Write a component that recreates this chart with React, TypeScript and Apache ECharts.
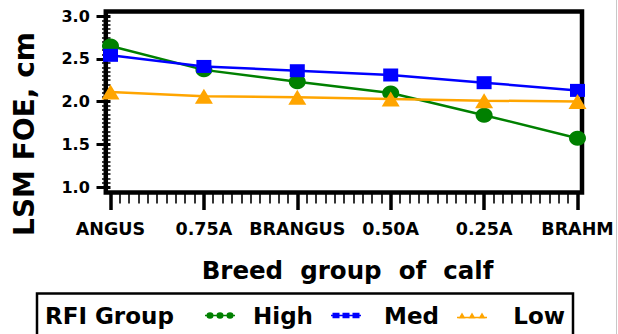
import React, { useEffect, useRef } from 'react';
import * as echarts from 'echarts';

const categories = ['ANGUS', '0.75A', 'BRANGUS', '0.50A', '0.25A', 'BRAHM'];
const seriesNames = ['High', 'Med', 'Low'];
const high = [2.65, 2.37, 2.23, 2.1, 1.84, 1.57];
const med = [2.54, 2.41, 2.36, 2.31, 2.22, 2.13];
const low = [2.11, 2.06, 2.05, 2.03, 2.01, 2.0];
const yTicks = { min: 1, max: 3, step: 0.5 };

const FONT = '"DejaVu Sans", sans-serif';
const GREEN = '#008000';
const BLUE = '#0000FF';
const ORANGE = '#FFA500';

const ICON_HIGH =
  'path://M0,3.3H30V4.7H0Z M1.5,4a3.5,3.2 0 1,1 7,0a3.5,3.2 0 1,1 -7,0Z M11.5,4a3.5,3.2 0 1,1 7,0a3.5,3.2 0 1,1 -7,0Z M21.5,4a3.5,3.2 0 1,1 7,0a3.5,3.2 0 1,1 -7,0Z';
const ICON_MED =
  'path://M0,3.3H30V4.7H0Z M1.5,1.2h7v5.6h-7Z M11.5,1.2h7v5.6h-7Z M21.5,1.2h7v5.6h-7Z';
const ICON_LOW =
  'path://M0,5.3H30V6.7H0Z M1.5,7L5,1L8.5,7Z M11.5,7L15,1L18.5,7Z M21.5,7L25,1L28.5,7Z';

export default function App() {
  const ref = useRef<HTMLDivElement>(null);
  useEffect(() => {
    const chart = echarts.init(ref.current as HTMLDivElement, null, { renderer: 'svg' });
    const toPts = (arr: number[]) => arr.map((v, i) => [i, v]);
    const bold = { fontFamily: FONT, fontWeight: 'bold' as const, color: '#000' };
    chart.setOption({
      animation: false,
      backgroundColor: '#fff',
      grid: { left: 110.5, right: 40.5, top: 16, bottom: 147, containLabel: false },
      xAxis: {
        type: 'value',
        min: 0,
        max: categories.length - 1,
        interval: 1,
        offset: 5.5,
        axisLine: { show: false },
        splitLine: { show: false },
        axisTick: { show: true, length: 17.5, lineStyle: { color: '#000', width: 3.5 } },
        minorTick: { show: true, splitNumber: 10, length: 11, lineStyle: { color: '#000', width: 1.6 } },
        axisLabel: {
          margin: 27,
          fontSize: 17.5,
          ...bold,
          formatter: (v: number) => categories[Math.round(v)] ?? '',
        },
      },
      yAxis: {
        type: 'value',
        min: yTicks.min,
        max: yTicks.max,
        interval: yTicks.step,
        offset: 4.7,
        axisLine: { show: false },
        splitLine: { show: false },
        axisTick: { show: true, length: 14, lineStyle: { color: '#000', width: 3 } },
        minorTick: { show: true, splitNumber: 10, length: 8.5, lineStyle: { color: '#000', width: 1.5 } },
        axisLabel: {
          margin: 16,
          fontSize: 16,
          ...bold,
          formatter: (v: number) => v.toFixed(1),
        },
      },
      legend: {
        left: 205,
        top: 304,
        padding: 0,
        itemWidth: 30,
        itemHeight: 8,
        itemGap: 18,
        selectedMode: false,
        itemStyle: { borderWidth: 0 },
        data: [
          { name: seriesNames[0], icon: ICON_HIGH },
          { name: seriesNames[1], icon: ICON_MED },
          { name: seriesNames[2], icon: ICON_LOW },
        ],
        formatter: '{a|{name}}',
        textStyle: {
          fontSize: 23,
          ...bold,
          rich: { a: { width: 73, align: 'right', fontSize: 23, ...bold } },
        },
      },
      graphic: [
        {
          type: 'rect',
          z: 0,
          shape: { x: 105.8, y: 11.5, width: 476.2, height: 181 },
          style: { fill: 'none', stroke: '#000', lineWidth: 4.5 },
        },
        {
          type: 'line',
          shape: { x1: 616.5, y1: 0, x2: 616.5, y2: 334 },
          style: { stroke: '#c8c8c8', lineWidth: 1 },
        },
        {
          type: 'rect',
          shape: { x: 37, y: 293.5, width: 536, height: 60 },
          style: { fill: 'none', stroke: '#000', lineWidth: 2.5 },
        },
        {
          type: 'text',
          x: 45,
          y: 315.5,
          style: {
            text: 'RFI Group',
            fontSize: 23,
            fontWeight: 'bold',
            fontFamily: FONT,
            fill: '#000',
            textAlign: 'left',
            textVerticalAlign: 'middle',
          },
        },
        {
          type: 'text',
          x: 347.5,
          y: 270,
          style: {
            text: 'Breed  group  of  calf',
            fontSize: 24.5,
            fontWeight: 'bold',
            fontFamily: FONT,
            fill: '#000',
            textAlign: 'center',
            textVerticalAlign: 'middle',
          },
        },
        {
          type: 'text',
          x: 24,
          y: 134,
          rotation: Math.PI / 2,
          style: {
            text: 'LSM FOE, cm',
            fontSize: 28,
            fontWeight: 'bold',
            fontFamily: FONT,
            fill: '#000',
            textAlign: 'center',
            textVerticalAlign: 'middle',
          },
        },
      ],
      series: [
        {
          name: seriesNames[0],
          type: 'line',
          data: toPts(high),
          symbol: 'circle',
          symbolSize: [17, 15],
          clip: false,
          z: 3,
          color: GREEN,
          lineStyle: { color: GREEN, width: 2.5 },
          itemStyle: { color: GREEN, borderWidth: 0 },
        },
        {
          name: seriesNames[1],
          type: 'line',
          data: toPts(med),
          symbol: 'rect',
          symbolSize: [15, 13],
          clip: false,
          z: 4,
          color: BLUE,
          lineStyle: { color: BLUE, width: 2.5 },
          itemStyle: { color: BLUE, borderWidth: 0 },
        },
        {
          name: seriesNames[2],
          type: 'line',
          data: toPts(low),
          symbol: 'triangle',
          symbolSize: [18, 15],
          clip: false,
          z: 5,
          color: ORANGE,
          lineStyle: { color: ORANGE, width: 2.5 },
          itemStyle: { color: ORANGE, borderWidth: 0 },
        },
      ],
    });
    return () => chart.dispose();
  }, []);
  return (
    <div
      ref={ref}
      style={{ position: 'absolute', left: 0, top: 0, width: 618, height: 334 }}
    />
  );
}
